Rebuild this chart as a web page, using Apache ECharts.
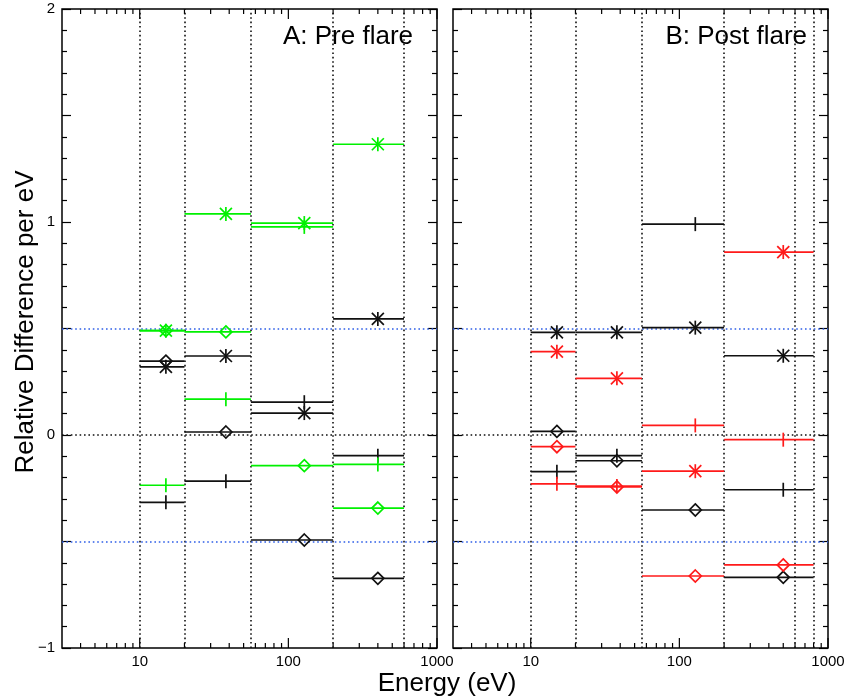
<!DOCTYPE html>
<html>
<head>
<meta charset="utf-8">
<script src="https://cdn.jsdelivr.net/npm/echarts@6/dist/echarts.min.js"></script>
<style>
html, body { margin: 0; padding: 0; background: #fff; }
#chart { width: 852px; height: 700px; }
</style>
</head>
<body>
<div id="chart"></div>
<script>
// energy bins (eV)
const binLo = [10, 20, 56, 200];
const binHiPre = [20, 56, 200, 600];
const binHiPost = [20, 56, 200, 800];
const binMidPre = [15, 38, 128, 400];
const binMidPost = [15, 38, 128, 500];
const edgesPre = [10, 20, 56, 200, 600];
const edgesPost = [10, 20, 56, 200, 600, 800];
const xTicks = [4, 5, 6, 7, 8, 9, 10, 20, 30, 40, 50, 60, 70, 80, 90, 100,
    200, 300, 400, 500, 600, 700, 800, 900, 1000];

// A: pre flare
const preBlackStar = [0.32, 0.371, 0.103, 0.545];
const preBlackPlus = [-0.316, -0.217, 0.154, -0.097];
const preBlackDiamond = [0.347, 0.014, -0.493, -0.673];
const preGreenStar = [0.49, 1.038, 0.995, 1.365];
const preGreenPlus = [-0.236, 0.168, 0.977, -0.138];
const preGreenDiamond = [0.49, 0.484, -0.144, -0.343];

// B: post flare
const postBlackStar = [0.482, 0.482, 0.504, 0.372];
const postBlackPlus = [-0.172, -0.097, 0.99, -0.257];
const postBlackDiamond = [0.017, -0.121, -0.352, -0.668];
const postRedStar = [0.391, 0.266, -0.17, 0.859];
const postRedPlus = [-0.229, -0.24, 0.045, -0.022];
const postRedDiamond = [-0.055, -0.244, -0.662, -0.61];

const FONT = 'Liberation Sans';
const BLUE = '#2f5fe8';
const GREEN = '#00f000';
const RED = '#ff1a1a';
const BLACK = '#111';

const seg = (x1, y1, x2, y2, st) => ({ type: 'line', shape: { x1, y1, x2, y2 }, style: st });

function barItem(sym, color) {
    return function (params, api) {
        const v = api.value(3);
        const a = api.coord([api.value(0), v]);
        const b = api.coord([api.value(1), v]);
        const c = api.coord([api.value(2), v]);
        const st = { stroke: color, lineWidth: 1.7, fill: 'none' };
        const kids = [seg(a[0], a[1], b[0], b[1], st)];
        if (sym === 'plus') {
            kids.push(seg(c[0], c[1] - 7, c[0], c[1] + 7, st));
        } else if (sym === 'star') {
            kids.push(seg(c[0], c[1] - 7, c[0], c[1] + 7, st));
            kids.push(seg(c[0] - 6, c[1] - 6, c[0] + 6, c[1] + 6, st));
            kids.push(seg(c[0] - 6, c[1] + 6, c[0] + 6, c[1] - 6, st));
        } else {
            kids.push({
                type: 'polygon',
                shape: { points: [[c[0], c[1] - 6], [c[0] + 6, c[1]], [c[0], c[1] + 6], [c[0] - 6, c[1]]] },
                style: st
            });
        }
        return { type: 'group', children: kids };
    };
}

function dataSeries(g, hi, mid, vals, sym, color) {
    return {
        type: 'custom',
        xAxisIndex: g,
        yAxisIndex: g * 2,
        renderItem: barItem(sym, color),
        encode: { x: [0, 1, 2], y: 3 },
        data: vals.map((v, i) => [binLo[i], hi[i], mid[i], v]),
        z: 5,
        silent: true,
        animation: false
    };
}

function tickItem(params, api) {
    const x = api.value(0);
    const lg = Math.log10(x);
    const major = Math.abs(lg - Math.round(lg)) < 1e-6;
    const len = major ? 10 : 5;
    const bot = api.coord([x, -1]);
    const top = api.coord([x, 2]);
    const st = { stroke: '#000', lineWidth: 1.2 };
    return {
        type: 'group',
        children: [
            seg(bot[0], bot[1], bot[0], bot[1] - len, st),
            seg(top[0], top[1], top[0], top[1] + len, st)
        ]
    };
}

function guideSeries(g, edges) {
    const dot = (color) => ({ color, width: 1.6, type: [1.6, 2.8] });
    return {
        type: 'custom',
        xAxisIndex: g,
        yAxisIndex: g * 2,
        renderItem: tickItem,
        encode: { x: 0, y: 1 },
        data: xTicks.map(t => [t, -1]),
        z: 3,
        silent: true,
        animation: false,
        markLine: {
            silent: true,
            symbol: ['none', 'none'],
            label: { show: false },
            animation: false,
            data: edges.map(e => ({ xAxis: e, lineStyle: dot(BLACK) })).concat([
                { yAxis: 0, lineStyle: dot(BLACK) },
                { yAxis: 0.5, lineStyle: dot(BLUE) },
                { yAxis: -0.5, lineStyle: dot(BLUE) }
            ])
        }
    };
}

function xAxis(g) {
    return {
        type: 'log',
        logBase: 10,
        gridIndex: g,
        min: 3,
        max: 1000,
        axisLine: { show: false },
        axisTick: { show: false },
        splitLine: { show: false },
        minorTick: { show: false },
        axisLabel: {
            fontFamily: FONT,
            fontSize: 15,
            color: '#000',
            margin: 6,
            showMinLabel: true,
            showMaxLabel: true,
            formatter: v => {
                const lg = Math.log10(v);
                return Math.abs(lg - Math.round(lg)) < 1e-6 ? String(Math.round(v)) : '';
            }
        }
    };
}

function yAxis(g, pos, labels) {
    return {
        type: 'value',
        gridIndex: g,
        position: pos,
        min: -1,
        max: 2,
        interval: 0.5,
        axisLine: { show: false },
        splitLine: { show: false },
        axisTick: { show: true, inside: true, length: 9, lineStyle: { color: '#000', width: 1.2 } },
        minorTick: { show: true, splitNumber: 5, length: 5, lineStyle: { color: '#000', width: 1.2 } },
        axisLabel: {
            show: labels,
            fontFamily: FONT,
            fontSize: 15,
            color: '#000',
            margin: 7,
            formatter: v => (Math.abs(v - Math.round(v)) < 1e-6 ? (v < 0 ? '\u2212' + Math.abs(v) : String(v)) : '')
        }
    };
}

const gridBox = { show: true, borderColor: '#000', borderWidth: 1.5, top: 9, height: 639, width: 375 };

const myChart = echarts.init(document.getElementById('chart'), null, { renderer: 'canvas' });
myChart.setOption({
    backgroundColor: '#fff',
    animation: false,
    grid: [
        Object.assign({ left: 62 }, gridBox),
        Object.assign({ left: 453 }, gridBox)
    ],
    xAxis: [xAxis(0), xAxis(1)],
    yAxis: [yAxis(0, 'left', true), yAxis(0, 'right', false), yAxis(1, 'left', false), yAxis(1, 'right', false)],
    graphic: [
        { type: 'text', x: 413, y: 37, style: { text: 'A: Pre flare', font: '26px "Liberation Sans"', fill: '#000', align: 'right', verticalAlign: 'middle' } },
        { type: 'text', x: 807, y: 37, style: { text: 'B: Post flare', font: '26px "Liberation Sans"', fill: '#000', align: 'right', verticalAlign: 'middle' } },
        { type: 'text', x: 26, y: 322, rotation: Math.PI / 2, style: { text: 'Relative Difference per eV', font: '26px "Liberation Sans"', fill: '#000', align: 'center', verticalAlign: 'middle' } },
        { type: 'text', x: 447, y: 684, style: { text: 'Energy (eV)', font: '26px "Liberation Sans"', fill: '#000', align: 'center', verticalAlign: 'middle' } }
    ],
    series: [
        guideSeries(0, edgesPre),
        guideSeries(1, edgesPost),
        dataSeries(0, binHiPre, binMidPre, preBlackStar, 'star', BLACK),
        dataSeries(0, binHiPre, binMidPre, preBlackPlus, 'plus', BLACK),
        dataSeries(0, binHiPre, binMidPre, preBlackDiamond, 'diamond', BLACK),
        dataSeries(0, binHiPre, binMidPre, preGreenStar, 'star', GREEN),
        dataSeries(0, binHiPre, binMidPre, preGreenPlus, 'plus', GREEN),
        dataSeries(0, binHiPre, binMidPre, preGreenDiamond, 'diamond', GREEN),
        dataSeries(1, binHiPost, binMidPost, postBlackStar, 'star', BLACK),
        dataSeries(1, binHiPost, binMidPost, postBlackPlus, 'plus', BLACK),
        dataSeries(1, binHiPost, binMidPost, postBlackDiamond, 'diamond', BLACK),
        dataSeries(1, binHiPost, binMidPost, postRedStar, 'star', RED),
        dataSeries(1, binHiPost, binMidPost, postRedPlus, 'plus', RED),
        dataSeries(1, binHiPost, binMidPost, postRedDiamond, 'diamond', RED)
    ]
});
</script>
</body>
</html>
